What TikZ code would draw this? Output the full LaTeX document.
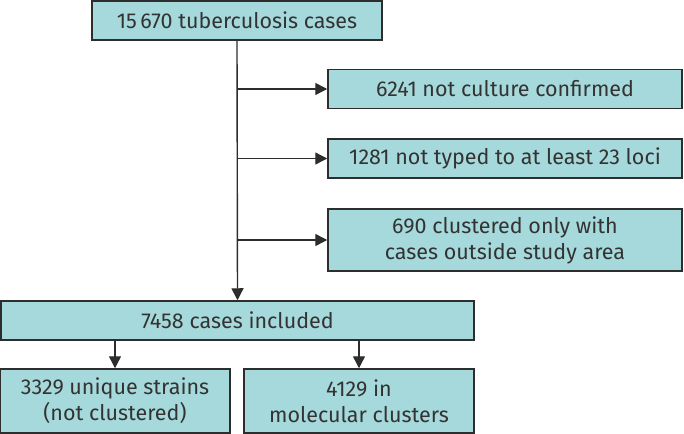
\documentclass[tikz,border=0pt]{standalone}
\usepackage{fontspec}
\setmainfont{Fira Sans}[Scale=1]
\usetikzlibrary{arrows.meta}
\definecolor{boxfill}{RGB}{166,217,219}
\definecolor{edge}{RGB}{45,45,45}
\tikzset{
  box/.style={draw=edge, fill=boxfill, line width=1.5pt, inner sep=0pt, align=center,
    font=\fontsize{21.5}{26}\selectfont\color{black!80}},
  conn/.style={draw=edge, line width=1.4pt, -{Triangle[length=12pt,width=12pt]}},
  plain/.style={draw=edge, line width=1.4pt}
}
\begin{document}
\begin{tikzpicture}[x=1pt,y=-1pt]
\useasboundingbox (0,0) rectangle (684,433);
\node[box, minimum width=290pt, minimum height=39pt] (top) at (237,20.5) {15\,670 tuberculosis cases};
\node[box, minimum width=354pt, minimum height=39pt] (b1) at (505,89) {6241 not culture confirmed};
\node[box, minimum width=354pt, minimum height=39pt] (b2) at (505,158.5) {1281 not typed to at least 23 loci};
\node[box, minimum width=354pt, minimum height=62pt] (b3) at (505,240) {690 clustered only with\\cases outside study area};
\node[box, minimum width=473pt, minimum height=39pt] (inc) at (237.5,320.5) {7458 cases included};
\node[box, minimum width=230pt, minimum height=64pt] (uniq) at (115,401) {3329 unique strains\\(not clustered)};
\node[box, minimum width=230pt, minimum height=64pt] (mol) at (359,401) {4129 in\\molecular clusters};
\coordinate (j1) at (top.south |- b1.west);
\coordinate (j2) at (top.south |- b2.west);
\coordinate (j3) at (top.south |- b3.west);
\draw[conn] (top.south) -- (inc.north);
\draw[conn] (j1) -- (b1.west);
\draw[conn] (j2) -- (b2.west);
\draw[conn] (j3) -- (b3.west);
\draw[conn] (inc.south -| uniq.north) -- (uniq.north);
\draw[conn] (inc.south -| mol.north) -- (mol.north);
\end{tikzpicture}
\end{document}
